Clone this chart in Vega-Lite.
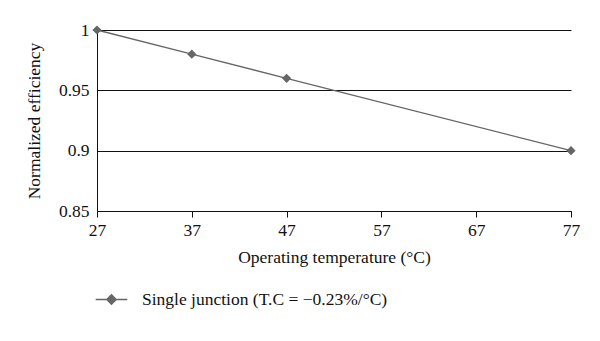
{
  "$schema": "https://vega.github.io/schema/vega-lite/v6.json",
  "width": 474,
  "height": 181,
  "autosize": {"type": "none"},
  "padding": {"left": 97, "top": 30, "right": 29, "bottom": 130},
  "background": "white",
  "config": {
    "view": {"stroke": null},
    "font": "Liberation Serif",
    "axis": {"labelFont": "Liberation Serif", "titleFont": "Liberation Serif", "labelFontSize": 17.5, "titleFontSize": 17.5, "titleFontWeight": "normal", "labelColor": "#111", "titleColor": "#111", "domainColor": "#111", "tickColor": "#111", "gridColor": "#111", "gridOpacity": 1}
  },
  "data": {"values": [
    {"temp": 27, "eff": 1.0, "series": "Single junction (T.C = −0.23%/°C)"},
    {"temp": 37, "eff": 0.98, "series": "Single junction (T.C = −0.23%/°C)"},
    {"temp": 47, "eff": 0.96, "series": "Single junction (T.C = −0.23%/°C)"},
    {"temp": 77, "eff": 0.90, "series": "Single junction (T.C = −0.23%/°C)"}
  ]},
  "mark": {"type": "line", "strokeWidth": 1.3, "point": {"shape": "diamond", "size": 85, "filled": true, "opacity": 1}},
  "encoding": {
    "x": {"field": "temp", "type": "quantitative", "scale": {"domain": [27, 77], "nice": false, "zero": false},
      "axis": {"values": [27, 37, 47, 57, 67, 77], "grid": false, "title": "Operating temperature (°C)", "labelPadding": 4, "tickSize": 6, "titlePadding": 10, "labelFlush": false}},
    "y": {"field": "eff", "type": "quantitative", "scale": {"domain": [0.85, 1], "nice": false, "zero": false},
      "axis": {"values": [0.85, 0.9, 0.95, 1], "format": ".2~f", "ticks": false, "grid": true, "title": "Normalized efficiency", "labelPadding": 8, "titlePadding": 15}},
    "color": {"field": "series", "type": "nominal", "scale": {"range": ["#666666"]},
      "legend": {"title": null, "orient": "none", "legendX": -2, "legendY": 253, "labelFont": "Liberation Serif", "labelFontSize": 17.5, "labelColor": "#111", "labelLimit": 0, "symbolType": "M-1,0H1M-0.3,0L0,-0.3L0.3,0L0,0.3Z", "symbolSize": 1000, "symbolStrokeWidth": 1.3, "symbolFillColor": "#666666", "symbolStrokeColor": "#666666", "labelOffset": 14}}
  }
}
